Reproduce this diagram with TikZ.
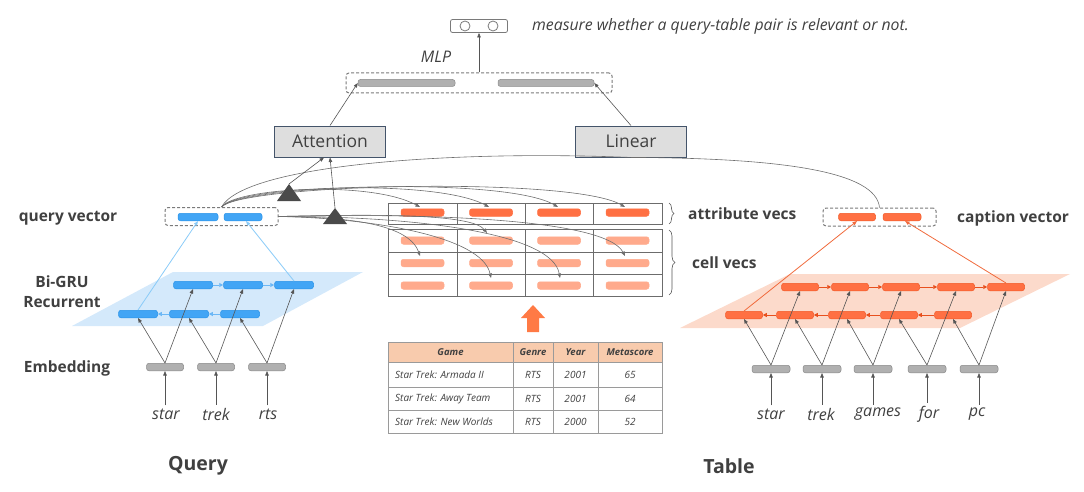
\documentclass[tikz,border=0pt]{standalone}
\usepackage{fontspec}
\setmainfont{Open Sans}
\usetikzlibrary{arrows.meta,decorations.pathreplacing}
\definecolor{qblue}{HTML}{42A5F5}
\definecolor{qblueD}{HTML}{2A93E8}
\definecolor{qblueL}{HTML}{6CB8F6}
\definecolor{qline}{HTML}{8ACBF8}
\definecolor{qPlane}{HTML}{D4E9FB}
\definecolor{oDark}{HTML}{FF7043}
\definecolor{oDarkD}{HTML}{F25A28}
\definecolor{oLight}{HTML}{FFAA8C}
\definecolor{oArr}{HTML}{E8501E}
\definecolor{oLine}{HTML}{F06A3C}
\definecolor{oPlane}{HTML}{FCDACB}
\definecolor{gFill}{HTML}{B0B0B0}
\definecolor{gDraw}{HTML}{8A8A8A}
\definecolor{aGray}{HTML}{555555}
\definecolor{cGray}{HTML}{6E6E6E}
\definecolor{dGray}{HTML}{7A7A7A}
\definecolor{tGray}{HTML}{404040}
\definecolor{bBlue}{HTML}{44546A}
\definecolor{boxGray}{HTML}{DEDEDE}
\definecolor{hdr}{HTML}{F8CBAD}
\definecolor{tline}{HTML}{9A9A9A}
\definecolor{triG}{HTML}{4A4A4A}
\definecolor{bigO}{HTML}{FF7A45}
\begin{document}
\begin{tikzpicture}[x=1pt,y=-1pt,
  bar/.style={rectangle, rounded corners=2.5pt, inner sep=0pt, minimum height=7.5pt, minimum width=39pt, line width=0.5pt},
  bbar/.style={bar, fill=qblue, draw=qblueD},
  obar/.style={bar, fill=oDark, draw=oDarkD, minimum width=37pt},
  abar/.style={bar, fill=oDark, draw=oDark, minimum width=43pt},
  lbar/.style={bar, fill=oLight, draw=oLight, minimum width=43pt},
  gbar/.style={bar, fill=gFill, draw=gDraw, minimum width=37pt},
  arr/.style={draw=aGray, line width=0.6pt, -{Triangle[length=4.5pt,width=3.5pt]}},
  barr/.style={draw=qblueL, line width=0.9pt, -{Triangle[length=4pt,width=4pt]}},
  oarr/.style={draw=oArr, line width=0.9pt, -{Triangle[length=4pt,width=4pt]}},
  qlinearr/.style={draw=qline, line width=0.8pt, -{Triangle[length=4.5pt,width=3.5pt]}},
  olinearr/.style={draw=oLine, line width=0.8pt, -{Triangle[length=4.5pt,width=3.5pt]}},
  curv/.style={draw=cGray, line width=0.6pt},
  carr/.style={curv, -{Triangle[length=4.5pt,width=3.5pt]}},
  dbox/.style={draw=dGray, dash pattern=on 3pt off 2pt, rounded corners=3pt, line width=1pt, inner sep=0pt},
  lab/.style={font=\bfseries\fontsize{15.5}{17}\selectfont, text=tGray, inner sep=0pt},
  word/.style={font=\itshape\fontsize{16}{18}\selectfont, text=tGray, inner sep=0pt},
  tbl/.style={font=\itshape\fontsize{10}{12}\selectfont, text=tGray, inner sep=0pt},
  thd/.style={font=\bfseries\itshape\fontsize{9.5}{11}\selectfont, text=tGray, inner sep=0pt},
  hbox/.style={draw=bBlue, fill=boxGray, line width=0.9pt, minimum width=111pt, minimum height=31pt, font=\fontsize{17.5}{20}\selectfont, text=tGray},
  tri/.style={fill=triG}
]
\useasboundingbox (0,0) rectangle (1084,492);

% ---------- planes ----------
\fill[qPlane] (72,326) -- (263,326) -- (363,272) -- (173,272) -- cycle;
\fill[oPlane] (680,328) -- (960,328) -- (1070,274) -- (790,274) -- cycle;

% ---------- top ----------
\node[draw=dGray, rounded corners=2pt, minimum width=57pt, minimum height=13pt, line width=0.8pt, inner sep=0pt] (out) at (479,26) {};
\node[circle, draw=dGray, line width=0.8pt, minimum size=10pt, inner sep=0pt] (o1) at (465,26) {};
\node[circle, draw=dGray, line width=0.8pt, minimum size=10pt, inner sep=0pt] (o2) at (493,26) {};
\node[anchor=west, font=\itshape\fontsize{15.8}{18}\selectfont, text=tGray, inner sep=0pt] (meas) at (532,26) {measure whether a query-table pair is relevant or not.};
\node[font=\itshape\fontsize{16}{18}\selectfont, text=tGray, inner sep=0pt] (mlplab) at (436,57) {MLP};

\node[dbox, minimum width=266pt, minimum height=20pt] (mlp) at (479,83) {};
\node[bar, fill=gFill, draw=gDraw, minimum width=97pt, minimum height=7pt] (m1) at (406.5,83) {};
\node[bar, fill=gFill, draw=gDraw, minimum width=96pt, minimum height=7pt] (m2) at (546,83) {};
\draw[arr] (mlp.north) -- (out.south);

\node[hbox] (att) at (330,141.5) {Attention};
\node[hbox] (lin) at (631,141.5) {Linear};
\draw[arr] (att.north) -- (m1.west);
\draw[arr] (lin.north) -- (m2.east);

% ---------- query side ----------
\node[dbox, minimum width=113pt, minimum height=18pt] (qbox) at (221.5,216.5) {};
\node[bbar, minimum width=40pt] (qv1) at (198,217) {};
\node[bbar, minimum width=38pt] (qv2) at (243,217) {};

\foreach \i/\x in {1/193,2/243,3/294} \node[bbar] (qt\i) at (\x,285) {};
\foreach \i/\x in {1/138,2/189,3/240} \node[bbar] (qb\i) at (\x,314) {};
\foreach \i/\x in {1/165,2/216,3/267} \node[gbar] (qe\i) at (\x,367) {};
\node[word] (w1) at (166,414) {star};
\node[word] (w2) at (216,414) {trek};
\node[word] (w3) at (268,414) {rts};
\foreach \i in {1,2,3} {
  \draw[arr] (w\i.north -| qe\i) ++(0,-3) coordinate (wq\i) -- (qe\i.south);
  \draw[arr] (qe\i.north) -- (qb\i.south);
  \draw[arr] (qe\i.north) -- (qt\i.south);
}
\draw[barr] (qt1.east) -- (qt2.west);
\draw[barr] (qt2.east) -- (qt3.west);
\draw[barr] (qb2.west) -- (qb1.east);
\draw[barr] (qb3.west) -- (qb2.east);
\draw[qlinearr] (qb1.north) -- (qv1.south);
\draw[qlinearr] (qt3.north) -- ([xshift=3pt]qv2.south);

\node[lab] (lq) at (68,218) {query vector};
\node[lab] (lbi) at (62,282) {Bi-GRU};
\node[lab] (lrec) at (62,302) {Recurrent};
\node[lab] (lemb) at (67,368) {Embedding};
\node[font=\bfseries\fontsize{19.5}{22}\selectfont, text=tGray] (lQuery) at (198,466) {Query};
\node[font=\bfseries\fontsize{19.5}{22}\selectfont, text=tGray] (lTable) at (729,466) {Table};

% ---------- table matrix ----------
\foreach \c/\x in {1/422.5,2/491,3/559,4/627.5} {
  \node[abar] (a\c) at (\x,212.5) {};
  \node[lbar] (c1\c) at (\x,240.5) {};
  \node[lbar] (c2\c) at (\x,263) {};
  \node[lbar] (c3\c) at (\x,285.5) {};
}
\draw[tline!70!black, line width=0.8pt] (388,203) rectangle (662,224);
\draw[tline!70!black, line width=0.8pt] (388,229) rectangle (662,296);
\foreach \x in {457,525,593} {
  \draw[tline!70!black, line width=0.8pt] (\x,203) -- (\x,224);
  \draw[tline!70!black, line width=0.8pt] (\x,229) -- (\x,296);
}
\draw[tline!70!black, line width=0.8pt] (388,252) -- (662,252);
\draw[tline!70!black, line width=0.8pt] (388,274) -- (662,274);

\draw[decorate, decoration={brace, amplitude=5pt}, draw=aGray, line width=0.6pt] (669,203) -- (669,224);
\draw[decorate, decoration={brace, amplitude=6pt}, draw=aGray, line width=0.6pt] (669,230) -- (669,295);
\node[lab, anchor=west] (lattr) at (688,214) {attribute vecs};
\node[lab, anchor=west] (lcell) at (692,263) {cell vecs};

% ---------- curves (attention) ----------
\coordinate (t1) at (420,207);
\coordinate (t2) at (489,207);
\coordinate (t3) at (558,207);
\coordinate (t4) at (625,207);
\draw[carr] (qbox.north) .. controls (235,188) and (370,180) .. (t1);
\draw[carr] (qbox.north) .. controls (238,186) and (435,178) .. (t2);
\draw[carr] (qbox.north) .. controls (240,185) and (505,176) .. (t3);
\draw[carr] (qbox.north) .. controls (242,184) and (572,176) .. (t4);
\draw[curv] (qbox.north) .. controls (245,165) and (450,150) .. (lin.south);

\coordinate (s1) at (487,233);
\coordinate (s2) at (420,256);
\coordinate (s3) at (625,256);
\coordinate (s4) at (491,278);
\coordinate (s5) at (560,278);
\draw[carr] (qbox.east) .. controls (380,214) and (472,214) .. (s1);
\draw[carr] (qbox.east) .. controls (340,217) and (408,222) .. (s2);
\draw[carr] (qbox.east) .. controls (420,213) and (605,218) .. (s3);
\draw[carr] (qbox.east) .. controls (370,218) and (482,236) .. (s4);
\draw[carr] (qbox.east) .. controls (410,216) and (552,232) .. (s5);

% triangles
\fill[tri] (277,201) -- (301,201) -- (289,184) -- cycle;
\coordinate (tri1) at (289,184);
\fill[tri] (323,224) -- (347,224) -- (335,208) -- cycle;
\coordinate (tri2) at (335,208);
\draw[arr] (tri1) -- ([xshift=-6pt]att.south);
\draw[arr] (tri2) -- (att.south);

% ---------- caption side ----------
\node[dbox, minimum width=113pt, minimum height=18pt] (cbox) at (879.5,217) {};
\node[obar] (cv1) at (857,217) {};
\node[obar, minimum width=38pt] (cv2) at (902,217) {};
\draw[curv] (lin.south) .. controls (785,158) and (876,172) .. (cbox.north);

\foreach \i/\x in {1/800,2/850,3/901,4/956,5/1006} \node[obar] (tt\i) at (\x,287) {};
\foreach \i/\x in {1/744,2/795,3/847,4/899,5/953} \node[obar] (tb\i) at (\x,315) {};
\foreach \i/\x in {1/771,2/822,3/873,4/927,5/979} \node[gbar, minimum width=38pt] (te\i) at (\x,369) {};
\node[word] (v1) at (771,414) {star};
\node[word] (v2) at (821,414) {trek};
\node[word] (v3) at (878,414) {games};
\node[word] (v4) at (929,414) {for};
\node[word] (v5) at (977,414) {pc};
\foreach \i in {1,...,5} {
  \draw[arr] (te\i |- v\i.north) ++(0,-3) coordinate (wt\i) -- (te\i.south);
  \draw[arr] (te\i.north) -- (tb\i.south);
  \draw[arr] (te\i.north) -- (tt\i.south);
}
\foreach \i/\j in {1/2,2/3,3/4,4/5} {
  \draw[oarr] (tt\i.east) -- (tt\j.west);
  \draw[oarr] (tb\j.west) -- (tb\i.east);
}
\draw[olinearr] (tb1.north) -- (cv1.south);
\draw[olinearr] (tt5.north) -- ([xshift=3pt]cv2.south);
\node[lab, anchor=west] (lcap) at (957,218) {caption vector};

% ---------- big arrow ----------
\fill[bigO] (527,332) -- (527,318) -- (521,318) -- (533,305) -- (545,318) -- (539,318) -- (539,332) -- cycle;

% ---------- raw table ----------
\fill[hdr] (388,342) rectangle (662,362);
\draw[tline, line width=0.8pt] (388,342) rectangle (662,433);
\foreach \y in {362,387,410} \draw[tline, line width=0.8pt] (388,\y) -- (662,\y);
\foreach \x in {513,553,598} \draw[tline, line width=0.8pt] (\x,342) -- (\x,433);
\node[thd] (h1) at (450.5,352) {Game};
\node[thd] (h2) at (533,352) {Genre};
\node[thd] (h3) at (575.5,352) {Year};
\node[thd] (h4) at (630,352) {Metascore};
\node[tbl, anchor=west] (r1a) at (395,374.5) {Star Trek: Armada II};
\node[tbl] (r1b) at (533,374.5) {RTS};
\node[tbl] (r1c) at (575.5,374.5) {2001};
\node[tbl] (r1d) at (630,374.5) {65};
\node[tbl, anchor=west] (r2a) at (395,398.5) {Star Trek: Away Team};
\node[tbl] (r2b) at (533,398.5) {RTS};
\node[tbl] (r2c) at (575.5,398.5) {2001};
\node[tbl] (r2d) at (630,398.5) {64};
\node[tbl, anchor=west] (r3a) at (395,421.5) {Star Trek: New Worlds};
\node[tbl] (r3b) at (533,421.5) {RTS};
\node[tbl] (r3c) at (575.5,421.5) {2000};
\node[tbl] (r3d) at (630,421.5) {52};
\end{tikzpicture}
\end{document}
